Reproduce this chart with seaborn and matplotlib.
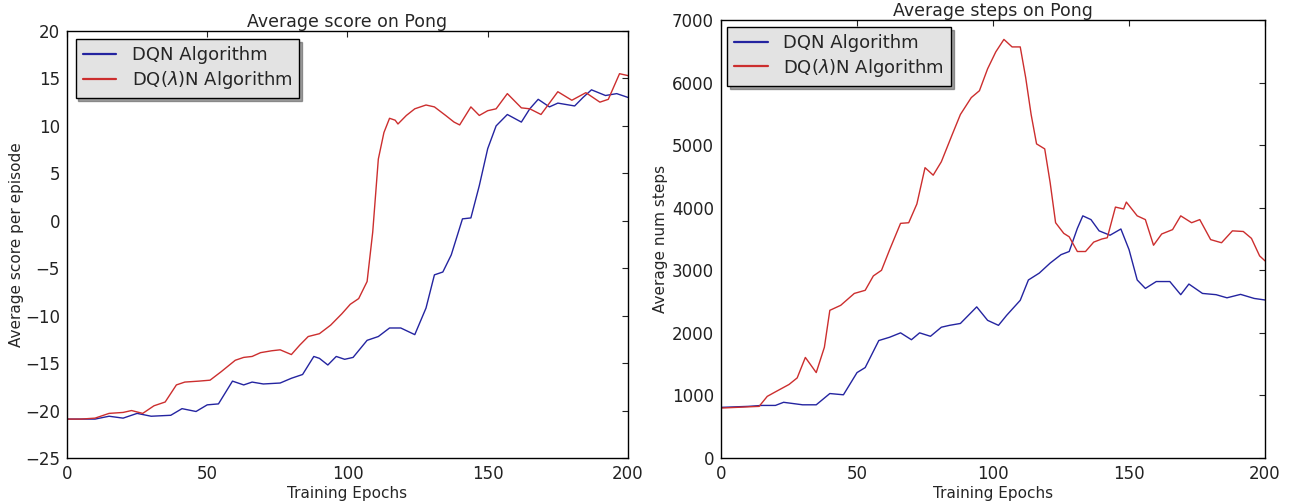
import matplotlib
matplotlib.use("Agg")
import matplotlib.pyplot as plt
import seaborn as sns
import pandas as pd

# ---------------- data ----------------
score_dqn_epochs = [0, 5, 10, 15, 20, 25, 30, 37, 41, 46, 50, 54, 59, 63, 66, 70, 76, 80, 84, 88, 90,
                    93, 96, 99, 102, 107, 111, 115, 119, 124, 128, 131, 134, 137, 141, 144, 147, 150,
                    153, 157, 162, 165, 168, 172, 175, 181, 184, 187, 192, 196, 200]
score_dqn = [-20.9, -20.9, -20.9, -20.6, -20.8, -20.3, -20.6, -20.5, -19.8, -20.1, -19.4, -19.3, -16.9,
             -17.3, -17.0, -17.2, -17.1, -16.6, -16.2, -14.3, -14.5, -15.2, -14.3, -14.6, -14.4, -12.6,
             -12.2, -11.3, -11.3, -12.0, -9.2, -5.7, -5.4, -3.6, 0.2, 0.3, 3.7, 7.6, 10.0, 11.2, 10.4,
             11.8, 12.8, 12.0, 12.4, 12.1, 13.0, 13.8, 13.2, 13.4, 13.0]

score_dql_epochs = [0, 5, 10, 15, 20, 23, 27, 31, 35, 39, 42, 47, 51, 55, 60, 63, 66, 69, 73, 76, 80,
                    83, 86, 90, 94, 98, 101, 104, 107, 109, 111, 113, 115, 117, 118, 121, 124, 128, 131,
                    135, 138, 140, 144, 147, 150, 153, 157, 162, 165, 169, 175, 180, 185, 190, 193, 197, 200]
score_dql = [-20.9, -20.9, -20.8, -20.3, -20.2, -20.0, -20.3, -19.5, -19.1, -17.3, -17.0, -16.9, -16.8,
             -15.9, -14.7, -14.4, -14.3, -13.9, -13.7, -13.6, -14.1, -13.1, -12.2, -11.9, -11.0, -9.8,
             -8.8, -8.2, -6.4, -1.2, 6.5, 9.3, 10.8, 10.6, 10.2, 11.1, 11.8, 12.2, 12.0, 11.1, 10.4,
             10.1, 12.0, 11.1, 11.6, 11.8, 13.4, 11.9, 11.8, 11.2, 13.6, 12.7, 13.5, 12.5, 12.8, 15.5, 15.3]

steps_dqn_epochs = [0, 10, 15, 20, 23, 30, 35, 40, 45, 50, 53, 58, 62, 66, 70, 73, 77, 81, 84, 88, 94,
                    98, 102, 105, 110, 113, 117, 121, 125, 128, 131, 133, 136, 139, 143, 147, 150, 153,
                    156, 160, 165, 169, 172, 177, 182, 186, 191, 196, 200]
steps_dqn = [809, 825, 840, 840, 890, 850, 850, 1030, 1010, 1365, 1445, 1877, 1930, 2000, 1890, 2000,
             1945, 2090, 2120, 2150, 2415, 2200, 2120, 2280, 2520, 2845, 2955, 3115, 3250, 3300, 3670,
             3870, 3810, 3630, 3560, 3660, 3330, 2845, 2710, 2820, 2820, 2610, 2780, 2630, 2610, 2560,
             2615, 2550, 2525]

steps_dql_epochs = [0, 14, 17, 20, 25, 28, 31, 35, 38, 40, 44, 49, 53, 56, 59, 62, 66, 69, 72, 75, 78,
                    81, 85, 88, 92, 95, 98, 101, 104, 107, 110, 112, 114, 116, 119, 121, 123, 126, 128,
                    131, 134, 137, 140, 142, 145, 148, 149, 153, 156, 159, 162, 166, 169, 173, 176, 180,
                    184, 188, 192, 195, 198, 200]
steps_dql = [798, 825, 985, 1057, 1175, 1280, 1607, 1365, 1770, 2360, 2440, 2630, 2680, 2910, 3000,
             3330, 3750, 3760, 4060, 4640, 4520, 4735, 5170, 5490, 5760, 5870, 6220, 6490, 6690, 6570,
             6570, 6080, 5490, 5020, 4940, 4400, 3760, 3590, 3535, 3300, 3300, 3450, 3500, 3520, 4010,
             3980, 4090, 3870, 3810, 3400, 3580, 3650, 3870, 3760, 3810, 3490, 3440, 3630, 3620, 3510,
             3230, 3150]

series_names = ["DQN Algorithm", "DQ($\\lambda$)N Algorithm"]
series_colors = ["#2424a0", "#cc2e2e"]

titles = ["Average score on Pong", "Average steps on Pong"]
ylabels = ["Average score per episode", "Average num steps"]
xlabel = "Training Epochs"
score_yticks = [-25, -20, -15, -10, -5, 0, 5, 10, 15, 20]
steps_yticks = [0, 1000, 2000, 3000, 4000, 5000, 6000, 7000]
xticks = [0, 50, 100, 150, 200]

# ---------------- build frames ----------------
def long_frame(ep_a, val_a, ep_b, val_b):
    a = pd.DataFrame({"epoch": ep_a, "value": val_a, "algo": series_names[0]})
    b = pd.DataFrame({"epoch": ep_b, "value": val_b, "algo": series_names[1]})
    return pd.concat([a, b], ignore_index=True)

df_score = long_frame(score_dqn_epochs, score_dqn, score_dql_epochs, score_dql)
df_steps = long_frame(steps_dqn_epochs, steps_dqn, steps_dql_epochs, steps_dql)

# ---------------- style ----------------
sns.set_style("white")
plt.rcParams.update({
    "font.family": ["DejaVu Sans"],
    "xtick.direction": "in",
    "ytick.direction": "in",
    "xtick.top": True,
    "ytick.right": True,
    "xtick.major.size": 4,
    "ytick.major.size": 4,
    "xtick.major.width": 0.8,
    "ytick.major.width": 0.8,
    "xtick.color": "#222222",
    "ytick.color": "#222222",
    "axes.edgecolor": "black",
    "axes.linewidth": 1.0,
    "xtick.labelsize": 12,
    "ytick.labelsize": 12,
})

fig = plt.figure(figsize=(12.91, 5.04), dpi=100)
ax1 = fig.add_axes([0.0519, 0.0913, 0.4345, 0.8472])
ax2 = fig.add_axes([0.5585, 0.0913, 0.4214, 0.8690])

palette = dict(zip(series_names, series_colors))

for ax, df, title, ylab, yt, legend_anchor, ylab_x in [
    (ax1, df_score, titles[0], ylabels[0], score_yticks, (0.012, 0.985), -0.077),
    (ax2, df_steps, titles[1], ylabels[1], steps_yticks, (0.008, 0.988), -0.097),
]:
    sns.lineplot(data=df, x="epoch", y="value", hue="algo", hue_order=series_names,
                 palette=palette, linewidth=1.0, ax=ax, sort=True, estimator=None)
    ax.set_xlim(0, 200)
    ax.set_ylim(yt[0], yt[-1])
    ax.set_xticks(xticks)
    ax.set_yticks(yt)
    ax.set_title(title, fontsize=12.5, pad=3)
    ax.set_xlabel(xlabel, fontsize=11, labelpad=2)
    ax.set_ylabel(ylab, fontsize=11)
    ax.yaxis.set_label_coords(ylab_x, 0.5)
    ax.tick_params(axis="both", which="major", pad=5)
    for s in ax.spines.values():
        s.set_visible(True)
        s.set_color("black")
    leg = ax.legend(loc="upper left", bbox_to_anchor=legend_anchor, fontsize=13,
                    frameon=True, fancybox=False, shadow=True, handlelength=1.85,
                    handletextpad=0.85, borderpad=0.4, labelspacing=0.25, borderaxespad=0.1)
    leg.get_frame().set_facecolor("#e3e3e3")
    leg.get_frame().set_edgecolor("black")
    leg.get_frame().set_linewidth(1.0)
    leg.get_frame().set_alpha(1.0)
    for h in leg.get_lines():
        h.set_linewidth(1.6)

fig.savefig("out.png", dpi=100, facecolor="white")
